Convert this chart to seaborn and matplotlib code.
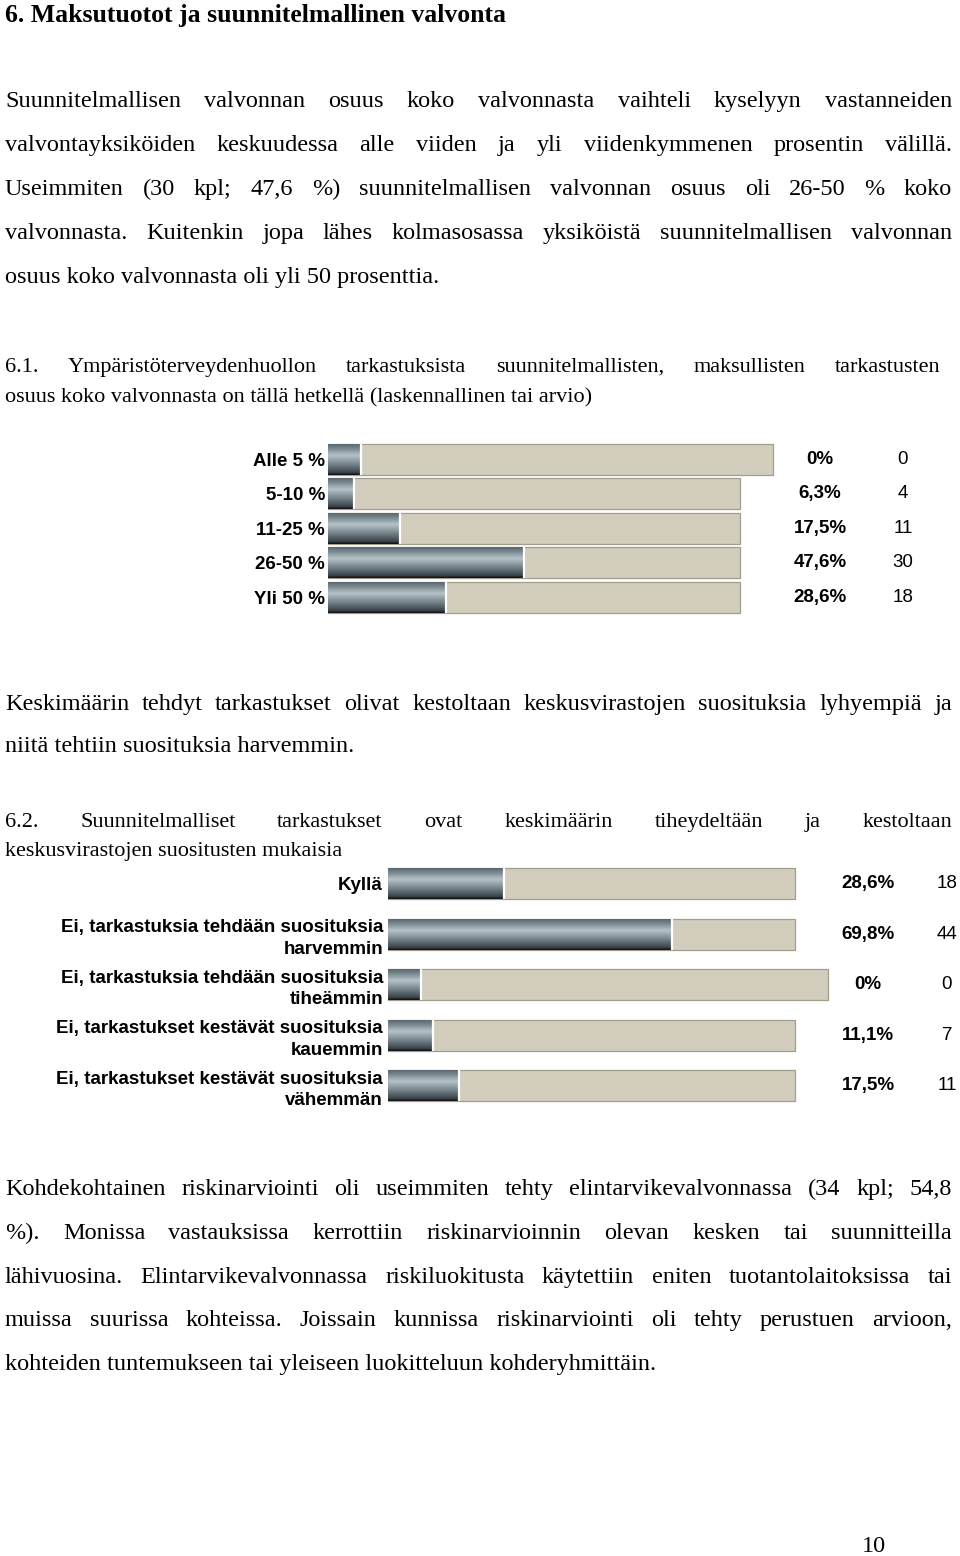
import numpy as np
import pandas as pd
import matplotlib
matplotlib.use("Agg")
import matplotlib.pyplot as plt
import seaborn as sns
from matplotlib import font_manager
from matplotlib.colors import LinearSegmentedColormap
from matplotlib.transforms import blended_transform_factory

W, H = 960, 1556

heading = "6. Maksutuotot ja suunnitelmallinen valvonta"

para1 = [
    "Suunnitelmallisen valvonnan osuus koko valvonnasta vaihteli kyselyyn vastanneiden",
    "valvontayksiköiden keskuudessa alle viiden ja yli viidenkymmenen prosentin välillä.",
    "Useimmiten (30 kpl; 47,6 %) suunnitelmallisen valvonnan osuus oli 26-50 % koko",
    "valvonnasta. Kuitenkin jopa lähes kolmasosassa yksiköistä suunnitelmallisen valvonnan",
    "osuus koko valvonnasta oli yli 50 prosenttia.",
]
sec61 = [
    "6.1. Ympäristöterveydenhuollon tarkastuksista suunnitelmallisten, maksullisten tarkastusten",
    "osuus koko valvonnasta on tällä hetkellä (laskennallinen tai arvio)",
]
para2 = [
    "Keskimäärin tehdyt tarkastukset olivat kestoltaan keskusvirastojen suosituksia lyhyempiä ja",
    "niitä tehtiin suosituksia harvemmin.",
]
sec62 = [
    "6.2. Suunnitelmalliset tarkastukset ovat keskimäärin tiheydeltään ja kestoltaan",
    "keskusvirastojen suositusten mukaisia",
]
para3 = [
    "Kohdekohtainen riskinarviointi oli useimmiten tehty elintarvikevalvonnassa (34 kpl; 54,8",
    "%). Monissa vastauksissa kerrottiin riskinarvioinnin olevan kesken tai suunnitteilla",
    "lähivuosina. Elintarvikevalvonnassa riskiluokitusta käytettiin eniten tuotantolaitoksissa tai",
    "muissa suurissa kohteissa. Joissain kunnissa riskinarviointi oli tehty perustuen arvioon,",
    "kohteiden tuntemukseen tai yleiseen luokitteluun kohderyhmittäin.",
]
page_no = "10"

# chart 6.1
labels1 = ["Alle 5 %", "5-10 %", "11-25 %", "26-50 %", "Yli 50 %"]
pct1 = [0, 6.3, 17.5, 47.6, 28.6]
n1 = [0, 4, 11, 30, 18]

# chart 6.2
labels2 = [
    "Kyllä",
    "Ei, tarkastuksia tehdään suosituksia\nharvemmin",
    "Ei, tarkastuksia tehdään suosituksia\ntiheämmin",
    "Ei, tarkastukset kestävät suosituksia\nkauemmin",
    "Ei, tarkastukset kestävät suosituksia\nvähemmän",
]
pct2 = [28.6, 69.8, 0, 11.1, 17.5]
n2 = [18, 44, 0, 7, 11]

sns.set_style("white")
plt.rcParams["font.family"] = ["Liberation Serif", "DejaVu Serif"]
plt.rcParams["text.color"] = "black"
plt.rcParams["ytick.color"] = "black"
plt.rcParams["ytick.labelcolor"] = "black"

installed = {f.name for f in font_manager.fontManager.ttflist}
if "Liberation Sans Narrow" in installed:
    chart_font, chart_size = ["Liberation Sans Narrow", "Liberation Sans"], 16.5
else:
    chart_font, chart_size = ["Liberation Sans", "DejaVu Sans"], 13.5

beige = "#d5cfb9"
metal = LinearSegmentedColormap.from_list("metal", [
    (0.0, "#55616a"), (0.15, "#75838a"), (0.38, "#b5c3c8"), (0.55, "#909da2"),
    (0.8, "#56626a"), (0.93, "#394246"), (1.0, "#0e1011")])
grad = np.linspace(0, 1, 64).reshape(-1, 1)
zero_stub = 8      # 0 % rows still show a short stub in the original
zero_track = 108   # and their track runs a bit longer

fig = plt.figure(figsize=(W / 100, H / 100), dpi=100)
fig.patch.set_facecolor("white")
renderer = fig.canvas.get_renderer()


def put(x, y, s, **kw):
    return fig.text(x / W, 1 - y / H, s, va="baseline", **kw)


def line(y, s, x0=5, x1=None, **kw):
    # plain line, or a line spread out word by word to reach x1 (justified)
    if x1 is None:
        put(x0, y, s, **kw)
        return
    words = s.split(" ")
    arts = [put(x0, y, w, **kw) for w in words]
    widths = [a.get_window_extent(renderer).width for a in arts]
    gap = (x1 - x0 - sum(widths)) / (len(words) - 1)
    x = x0
    for a, w in zip(arts, widths):
        a.set_x(x / W)
        x += w + gap


def block(lines, y0, step, x1=952, **kw):
    for i, s in enumerate(lines):
        last = i == len(lines) - 1
        line(y0 + i * step, s, x1=None if last else x1, **kw)


body = dict(fontsize=17.5, color="black")
cap = dict(fontsize=16, color="black")

put(5, 22, heading, fontsize=18.5, fontweight="bold", color="black")
block(para1, 107, 44, **body)
block(sec61, 372, 30, x1=940, **cap)
block(para2, 710, 42, **body)
block(sec62, 827, 29, **cap)
block(para3, 1195, 43.8, **body)
put(874, 1552, page_no, ha="center", **body)


def fmt(v):
    return "0%" if v == 0 else f"{v:.1f}".replace(".", ",") + "%"


def chart(labels, pct, n, top, spacing, x_zero, px_per, bar_h, pct_x, n_x, pad):
    rows = len(labels)
    ax = fig.add_axes([x_zero / W, 1 - (top + spacing * rows) / H,
                       (W - x_zero) / W, spacing * rows / H])
    df = pd.DataFrame({"label": labels, "pct": pct, "n": n})
    df["track"] = np.where(df["pct"] > 0, 100, zero_track)
    df["shown"] = np.where(df["pct"] > 0, df["pct"], zero_stub)

    sns.barplot(df, x="track", y="label", color=beige, width=bar_h,
                edgecolor="#a19e8e", linewidth=0.9, errorbar=None, ax=ax)
    n_track = len(ax.patches)
    sns.barplot(df, x="shown", y="label", color="#56626a", width=bar_h,
                linewidth=0, errorbar=None, ax=ax)

    xlim = (0, (W - x_zero) / px_per)
    ylim = (rows - 0.5, -0.5)
    for p in ax.patches[n_track:]:
        x0, y0, w, h = p.get_x(), p.get_y(), p.get_width(), p.get_height()
        im = ax.imshow(grad, cmap=metal, extent=(x0, x0 + w, y0 + h, y0),
                       aspect="auto", origin="upper", zorder=3, interpolation="bilinear")
        im.set_clip_path(p)
        ax.vlines(x0 + w, y0, y0 + h, color="white", lw=1.6, zorder=4)
    ax.set_xlim(*xlim)
    ax.set_ylim(*ylim)

    tr = blended_transform_factory(fig.transFigure, ax.transData)
    for i, (v, c) in enumerate(zip(pct, n)):
        ax.text(pct_x / W, i, fmt(v), transform=tr, ha="center", va="center",
                family=chart_font, fontsize=chart_size, fontweight="bold", color="black")
        ax.text(n_x / W, i, str(c), transform=tr, ha="center", va="center",
                family=chart_font, fontsize=chart_size, color="black")

    ax.set_xlabel("")
    ax.set_ylabel("")
    ax.set_xticks([])
    ax.tick_params(axis="y", length=0, pad=pad)
    for t in ax.get_yticklabels():
        t.set_fontfamily(chart_font)
        t.set_fontsize(chart_size)
        t.set_fontweight("bold")
        t.set_color("black")
        t.set_linespacing(1.35)
    sns.despine(ax=ax, left=True, bottom=True)
    ax.patch.set_visible(False)
    return ax


chart(labels1, pct1, n1, top=442, spacing=34.5, x_zero=328, px_per=4.12,
      bar_h=0.9, pct_x=820, n_x=903, pad=2.2)
chart(labels2, pct2, n2, top=858.5, spacing=50.5, x_zero=388, px_per=4.07,
      bar_h=0.62, pct_x=868, n_x=947, pad=3.6)

fig.savefig("out.png", dpi=100, facecolor="white")
